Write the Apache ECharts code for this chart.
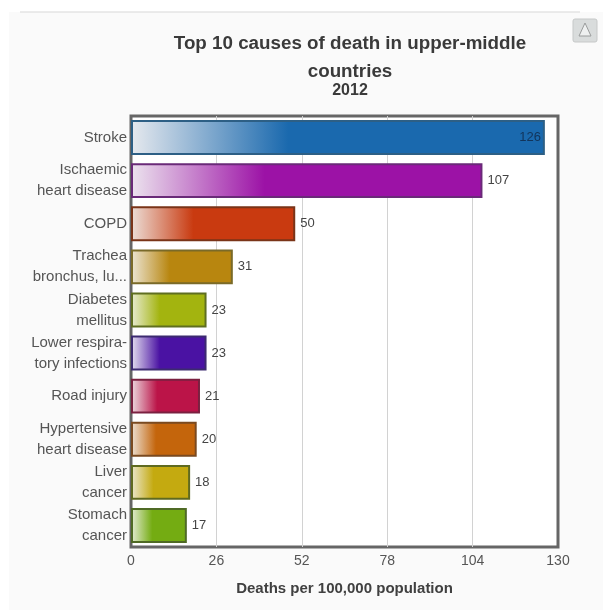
<!DOCTYPE html>
<html>
<head>
<meta charset="utf-8">
<style>html,body{margin:0;padding:0;background:#fff}#c{width:603px;height:610px}</style>
<script src="https://cdn.jsdelivr.net/npm/echarts@6/dist/echarts.min.js"></script>
</head>
<body>
<div id="c"></div>
<script>
const titleText = 'Top 10 causes of death in upper-middle\ncountries';
const subtitleText = '2012';
const axisTitle = 'Deaths per 100,000 population';
const categories = ['Stroke', 'Ischaemic\nheart disease', 'COPD', 'Trachea\nbronchus, lu...', 'Diabetes\nmellitus', 'Lower respira-\ntory infections', 'Road injury', 'Hypertensive\nheart disease', 'Liver\ncancer', 'Stomach\ncancer'];
const deaths = [126, 107, 50, 31, 23, 23, 21, 20, 18, 17];
const barColors = ['#1a69ae', '#9c12a6', '#c93a10', '#b8860f', '#a3b40f', '#4a12a3', '#bb1448', '#c4650c', '#c4aa10', '#74ac12'];
const edgeColors = ['#2d5f85', '#6a2a78', '#7a3418', '#7a6a28', '#5f6e20', '#3c2a70', '#7a2040', '#7a4a20', '#5f6a20', '#4f6a25'];
const fadeColors = ['#e6e9ee', '#ece4ee', '#ecdfd8', '#ece6d6', '#e9ecd6', '#e6e2f0', '#ecdde2', '#ece2d6', '#ebe8d2', '#e6ecd8'];

const chart = echarts.init(document.getElementById('c'), null, {renderer: 'canvas'});
chart.setOption({
  animation: false,
  backgroundColor: '#ffffff',
  title: [
    {text: titleText, left: 345, top: 25, textAlign: 'center',
     textStyle: {fontFamily: 'Liberation Sans', fontSize: 18.8, fontWeight: 'bold', color: '#3a3a3a', lineHeight: 28, align: 'center'}},
    {text: subtitleText, left: 345, top: 78, textAlign: 'center',
     textStyle: {fontFamily: 'Liberation Sans', fontSize: 16, fontWeight: 'bold', color: '#3a3a3a'}}
  ],
  grid: {left: 131, right: 45, top: 116, bottom: 63, show: true, backgroundColor: '#ffffff', borderColor: '#666', borderWidth: 3},
  xAxis: {
    type: 'value', min: 0, max: 130, interval: 26,
    name: axisTitle, nameLocation: 'middle', nameGap: 34,
    nameTextStyle: {fontFamily: 'Liberation Sans', fontSize: 15, fontWeight: 'bold', color: '#404040'},
    axisLine: {show: false}, axisTick: {show: false},
    axisLabel: {fontFamily: 'Liberation Sans', fontSize: 14, color: '#555', margin: 7},
    splitLine: {show: true, showMinLine: false, showMaxLine: false, lineStyle: {color: '#d2d2d2', width: 1}}
  },
  yAxis: {
    type: 'category', inverse: true, data: categories,
    axisLine: {show: false}, axisTick: {show: false},
    axisLabel: {interval: 0, fontFamily: 'Liberation Sans', fontSize: 15, color: '#555', lineHeight: 21, margin: 4, align: 'right', padding: [2, 0, 0, 0]}
  },
  series: [{
    type: 'bar',
    barWidth: '81%',
    data: deaths.map((v, i) => ({
      value: v,
      itemStyle: {
        color: new echarts.graphic.LinearGradient(0, 0, 1, 0, [
          {offset: 0, color: fadeColors[i]},
          {offset: 0.38, color: barColors[i]},
          {offset: 1, color: barColors[i]}
        ]),
        borderColor: edgeColors[i], borderWidth: 2
      },
      label: i === 0
        ? {show: true, position: 'insideRight', distance: 4, color: '#12345a', fontFamily: 'Liberation Sans', fontSize: 13}
        : {show: true, position: 'right', distance: 5, color: '#444', fontFamily: 'Liberation Sans', fontSize: 13, padding: [2, 0, 0, 0]}
    }))
  }],
  graphic: [
    {type: 'rect', z: -1, silent: true, shape: {x: 9, y: 12, width: 594, height: 598}, style: {fill: '#fafafa'}},
    {type: 'rect', z: 10, shape: {x: 20, y: 11.5, width: 560, height: 1}, style: {fill: '#d8d8d8'}},
    {type: 'rect', z: 10, shape: {x: 573, y: 19, width: 24, height: 23, r: 2},
     style: {fill: '#d9dcdc', stroke: '#c6c8c8', lineWidth: 1}},
    {type: 'polygon', z: 11, shape: {points: [[585, 23], [579, 36], [591, 36]]},
     style: {fill: '#eef0f0', stroke: '#9a9c9c', lineWidth: 1}}
  ]
});
</script>
</body>
</html>
